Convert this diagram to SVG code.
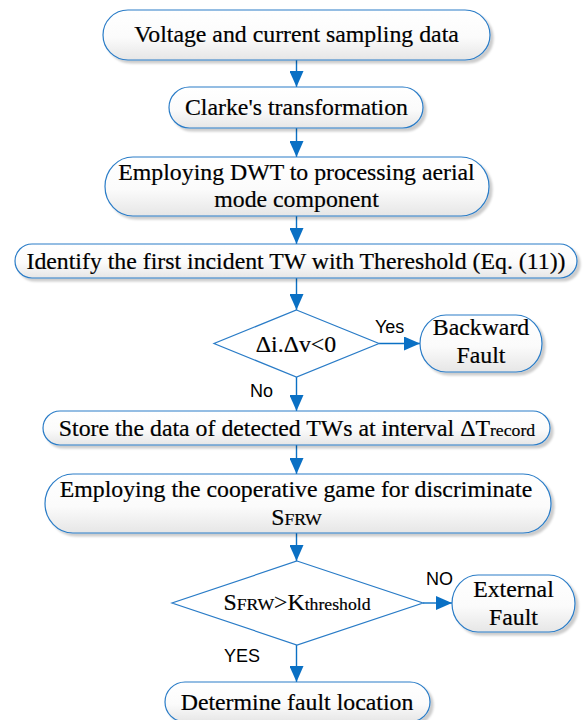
<svg xmlns="http://www.w3.org/2000/svg" width="586" height="720" viewBox="0 0 586 720">
  <style>
    .box { fill: url(#boxFill); stroke: #2a7cc7; stroke-width: 1.2; filter: url(#shadow); }
    .dia { fill: #ffffff; stroke: #2a7cc7; stroke-width: 1.2; }
    .t { font-family: "Liberation Serif", "Times New Roman", "DejaVu Serif", serif; font-size: 23.8px; fill: #000; stroke: #000; stroke-width: 0.2; text-anchor: middle; }
    .sm { font-size: 17.7px; }
    .lbl { font-family: "Liberation Sans", Arial, sans-serif; font-size: 18px; fill: #000; }
    .conn { stroke: #0a70c4; stroke-width: 1.4; fill: none; marker-end: url(#arrow); }
  </style>
  <defs>
    <linearGradient id="boxFill" x1="0" y1="0" x2="0" y2="1">
      <stop offset="0" stop-color="#ffffff"/>
      <stop offset="0.55" stop-color="#fbfbfb"/>
      <stop offset="1" stop-color="#e6e6e6"/>
    </linearGradient>
    <filter id="shadow" x="-5%" y="-20%" width="115%" height="150%">
      <feGaussianBlur in="SourceAlpha" stdDeviation="1.3"/>
      <feOffset dx="3" dy="3" result="b"/>
      <feFlood flood-color="#000" flood-opacity="0.2"/>
      <feComposite in2="b" operator="in"/>
      <feMerge>
        <feMergeNode/>
        <feMergeNode in="SourceGraphic"/>
      </feMerge>
    </filter>
    <marker id="arrow" markerUnits="userSpaceOnUse" viewBox="0 0 16 14" refX="16" refY="7" markerWidth="16" markerHeight="14" orient="auto">
      <path d="M0,0 L16,7 L0,14 Z" fill="#0a70c4"/>
    </marker>
  </defs>

  <!-- connectors and branch labels -->
  <g id="connectors">
    <line class="conn" x1="296.5" y1="60" x2="296.5" y2="87"/>
    <line class="conn" x1="296.5" y1="128" x2="296.5" y2="157"/>
    <line class="conn" x1="296.5" y1="216" x2="296.5" y2="244"/>
    <line class="conn" x1="296.5" y1="278" x2="296.5" y2="310"/>
    <line class="conn" x1="379" y1="343.5" x2="420" y2="343.5"/>
    <line class="conn" x1="296.5" y1="377" x2="296.5" y2="411"/>
    <line class="conn" x1="296.5" y1="445" x2="296.5" y2="474"/>
    <line class="conn" x1="296.5" y1="533" x2="296.5" y2="561"/>
    <line class="conn" x1="423" y1="603" x2="452" y2="603"/>
    <line class="conn" x1="296.5" y1="645" x2="296.5" y2="682"/>
    <text class="lbl" x="375" y="333">Yes</text>
    <text class="lbl" x="250" y="397">No</text>
    <text class="lbl" x="426" y="585">NO</text>
    <text class="lbl" x="224" y="662">YES</text>
  </g>

  <g id="n1">
    <rect class="box" x="103" y="10" width="387" height="50" rx="25" ry="25"/>
    <text class="t" x="296.5" y="42">Voltage and current sampling data</text>
  </g>

  <g id="n2">
    <rect class="box" x="169" y="87" width="254" height="41" rx="20.5" ry="20.5"/>
    <text class="t" x="296.5" y="115">Clarke's transformation</text>
  </g>

  <g id="n3">
    <rect class="box" x="105" y="157" width="384" height="59" rx="28" ry="29.5"/>
    <text class="t" x="296.5" y="180">Employing DWT to processing aerial</text>
    <text class="t" x="296.5" y="207">mode component</text>
  </g>

  <g id="n4">
    <rect class="box" x="15" y="244" width="562" height="34" rx="17" ry="17"/>
    <text class="t" x="296" y="268.5">Identify the first incident TW with Thereshold (Eq. (11))</text>
  </g>

  <g id="d1">
    <polygon class="dia" points="296.5,310 379,343.5 296.5,377 214,343.5"/>
    <text class="t" x="296" y="352">Δi.Δv&lt;0</text>
  </g>

  <g id="backward">
    <rect class="box" x="420" y="315" width="122" height="57" rx="26" ry="28.5"/>
    <text class="t" x="481" y="335">Backward</text>
    <text class="t" x="481" y="363">Fault</text>
  </g>

  <g id="n5">
    <rect class="box" x="43" y="411" width="507" height="34" rx="17" ry="17"/>
    <text class="t" x="297" y="435.5">Store the data of detected TWs at interval ΔT<tspan class="sm">record</tspan></text>
  </g>

  <g id="n6">
    <rect class="box" x="45" y="474" width="506" height="59" rx="28" ry="29.5"/>
    <text class="t" x="296" y="497">Employing the cooperative game for discriminate</text>
    <text class="t" x="296.5" y="525">S<tspan class="sm">FRW</tspan></text>
  </g>

  <g id="d2">
    <polygon class="dia" points="297,561 423,603 297,645 172,603"/>
    <text class="t" x="297" y="610">S<tspan class="sm">FRW</tspan>&gt;K<tspan class="sm">threshold</tspan></text>
  </g>

  <g id="external">
    <rect class="box" x="452" y="575" width="123" height="57" rx="26" ry="28.5"/>
    <text class="t" x="513.5" y="597">External</text>
    <text class="t" x="513.5" y="625">Fault</text>
  </g>

  <g id="n7">
    <rect class="box" x="165" y="682" width="265" height="40" rx="20" ry="20"/>
    <text class="t" x="297" y="710">Determine fault location</text>
  </g>
</svg>
